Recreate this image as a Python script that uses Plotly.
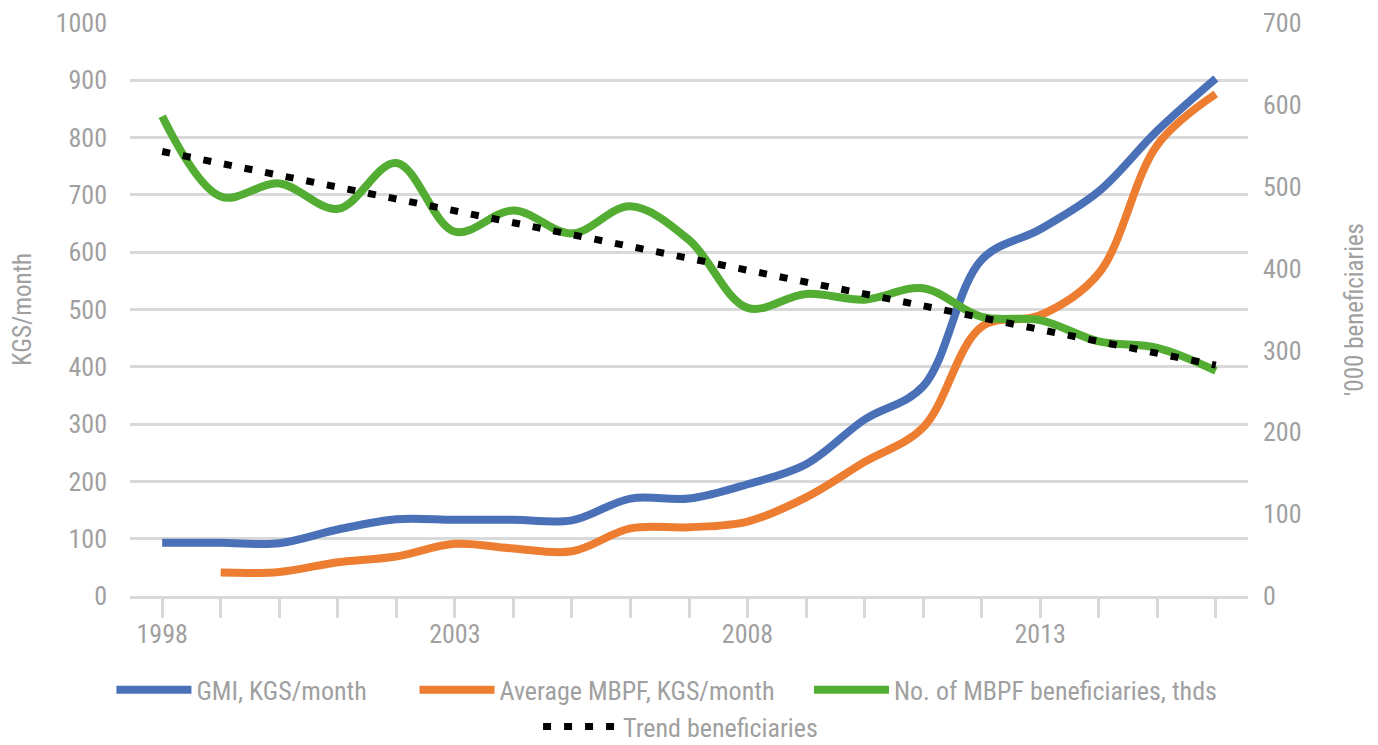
import plotly.graph_objects as go

years = list(range(1998, 2017))
tick_labels = [str(y) if (y - 1998) % 5 == 0 else "" for y in years]

gmi = [93, 93, 92, 116, 134, 133, 133, 132, 170, 170, 195, 230, 308, 366, 587, 640, 706, 812, 903]
mbpf = [None, 41, 42, 59, 69, 91, 83, 78, 118, 120, 130, 172, 234, 294, 470, 490, 563, 787, 876]
beneficiaries = [586, 488, 504, 473, 529, 445, 471, 443, 476, 435, 352, 369, 362, 376, 341, 337, 311, 303, 275]

trend_years = [1998, 2016]
trend_values = [543, 282]

FONT = "Liberation Sans Narrow, Roboto Condensed, Arial Narrow, Roboto, sans-serif"
GREY = "#A0A0A0"
GRID = "#D9D9D9"

trace_gmi = go.Scatter(x=years, y=gmi, name="GMI, KGS/month", mode="lines", legend="legend",
                       line=dict(color="#4A70B7", width=8, shape="spline"))
trace_mbpf = go.Scatter(x=years, y=mbpf, name="Average MBPF, KGS/month", mode="lines",
                        legend="legend2",
                        line=dict(color="#ED7D31", width=8, shape="spline"))
trace_benef = go.Scatter(x=years, y=beneficiaries, name="No. of MBPF beneficiaries, thds",
                         mode="lines", yaxis="y2", legend="legend3",
                         line=dict(color="#53AD33", width=8, shape="spline"))
trace_trend = go.Scatter(x=trend_years, y=trend_values, name="Trend beneficiaries",
                         mode="lines", yaxis="y2", legend="legend4",
                         line=dict(color="black", width=7, dash="8px,13px"))


def legend_at(x, y):
    return dict(orientation="h", x=x, xanchor="left", y=y, yanchor="middle",
                font=dict(size=26, color=GREY), itemwidth=75, bgcolor="rgba(0,0,0,0)")


layout = go.Layout(
    width=1378, height=745,
    paper_bgcolor="white", plot_bgcolor="white",
    font=dict(family=FONT, color=GREY, size=26),
    margin=dict(l=122, r=138, t=15, b=157, autoexpand=False),
    xaxis=dict(range=[1997.45, 2016.55], tickvals=years, ticktext=tick_labels,
               ticks="outside", ticklen=19, tickwidth=3, tickcolor=GRID,
               showline=True, linecolor=GRID, linewidth=3, ticklabelstandoff=-6,
               showgrid=False, zeroline=False, tickfont=dict(size=26, color=GREY)),
    yaxis=dict(range=[0, 1000], dtick=100, showgrid=True, gridcolor=GRID, gridwidth=3,
               zeroline=False, ticklabelstandoff=22, tickfont=dict(size=26, color=GREY),
               title=dict(text="KGS/month", font=dict(size=25, color=GREY), standoff=18)),
    yaxis2=dict(range=[0, 700], dtick=100, overlaying="y", side="right", showgrid=False,
                zeroline=False, ticklabelstandoff=14, tickfont=dict(size=26, color=GREY),
                title=dict(text="'000 beneficiaries", font=dict(size=25, color=GREY), standoff=44)),
    legend=legend_at(-0.0166, -0.164),
    legend2=legend_at(0.2545, -0.164),
    legend3=legend_at(0.6073, -0.164),
    legend4=legend_at(0.365, -0.228),
    showlegend=True,
)

fig = go.Figure(data=[trace_gmi, trace_mbpf, trace_benef, trace_trend], layout=layout)
fig.write_html("out.html")
